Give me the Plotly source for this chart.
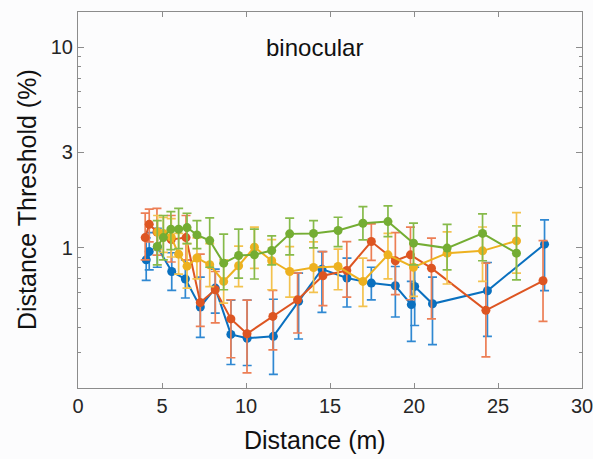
import plotly.graph_objects as go
import math

# ---------------- data ----------------
blue_x = [4.06, 4.24, 4.72, 5.58, 6.39, 7.28, 8.17, 9.10, 10.07, 11.63, 13.13, 14.52, 16.01, 17.46, 18.89, 19.84, 20.04, 21.10, 24.37, 27.77]
blue_y = [0.871, 0.958, 1.01, 0.762, 0.699, 0.507, 0.630, 0.370, 0.354, 0.362, 0.541, 0.783, 0.707, 0.667, 0.647, 0.521, 0.642, 0.526, 0.611, 1.043]
blue_hi = [1.12, 1.19, 1.25, 0.945, 0.871, 0.715, 0.783, 0.548, 0.548, 0.554, 0.748, 0.958, 0.889, 0.80, 0.807, 0.68, 0.80, 0.715, 0.845, 1.378]
blue_lo = [0.688, 0.777, 0.80, 0.613, 0.562, 0.358, 0.473, 0.262, 0.259, 0.234, 0.351, 0.477, 0.507, 0.55, 0.452, 0.342, 0.41, 0.329, 0.362, 0.612]

red_x = [4.00, 4.24, 4.70, 5.55, 6.43, 7.28, 8.17, 9.10, 10.06, 11.60, 13.07, 14.58, 16.00, 17.46, 18.89, 19.79, 21.04, 24.28, 27.68]
red_y = [1.125, 1.31, 1.20, 1.10, 1.125, 0.534, 0.618, 0.442, 0.373, 0.455, 0.551, 0.726, 0.771, 1.075, 0.862, 0.923, 0.792, 0.488, 0.685]
red_hi = [1.49, 1.56, 1.575, 1.45, 1.45, 0.93, 0.762, 0.551, 0.548, 0.613, 0.748, 0.958, 1.075, 1.316, 1.191, 1.268, 1.117, 0.839, 1.087]
red_lo = [0.87, 1.07, 0.92, 0.85, 0.87, 0.406, 0.422, 0.283, 0.238, 0.31, 0.376, 0.515, 0.568, 0.865, 0.584, 0.551, 0.442, 0.286, 0.430]

yellow_x = [4.74, 5.08, 5.55, 5.99, 6.49, 7.08, 7.84, 8.67, 9.56, 10.50, 11.53, 12.60, 14.02, 15.48, 16.96, 18.45, 19.97, 21.97, 24.08, 26.10]
yellow_y = [1.20, 1.18, 1.13, 0.93, 0.81, 0.89, 0.823, 0.68, 0.814, 1.008, 0.862, 0.762, 0.798, 0.807, 0.68, 0.923, 0.80, 0.941, 0.966, 1.083]
yellow_hi = [1.45, 1.42, 1.40, 1.18, 1.05, 1.12, 1.05, 0.87, 1.02, 1.268, 1.10, 1.015, 1.07, 0.985, 0.889, 1.18, 1.05, 1.2, 1.27, 1.499]
yellow_lo = [0.98, 0.95, 0.90, 0.74, 0.63, 0.70, 0.64, 0.53, 0.64, 0.79, 0.618, 0.568, 0.60, 0.618, 0.511, 0.70, 0.573, 0.66, 0.68, 0.748]

green_x = [4.72, 5.08, 5.53, 5.99, 6.49, 7.08, 7.84, 8.67, 9.56, 10.50, 11.53, 12.60, 14.02, 15.48, 16.96, 18.45, 19.97, 21.97, 24.08, 26.10]
green_y = [1.015, 1.125, 1.239, 1.239, 1.262, 1.16, 1.087, 0.839, 0.916, 0.923, 0.97, 1.174, 1.18, 1.22, 1.327, 1.352, 1.055, 0.997, 1.18, 0.941]
green_hi = [1.367, 1.45, 1.516, 1.575, 1.488, 1.367, 1.41, 1.17, 1.239, 1.239, 1.147, 1.405, 1.367, 1.421, 1.605, 1.618, 1.327, 1.31, 1.476, 1.287]
green_lo = [0.823, 0.87, 0.98, 0.99, 1.05, 0.99, 0.80, 0.618, 0.707, 0.699, 0.823, 0.923, 1.0, 1.015, 1.096, 1.138, 0.823, 0.777, 0.862, 0.693]

x_ticks = [0, 5, 10, 15, 20, 25, 30]
y_ticks = [1, 3, 10]
y_ticktext = ["1", "3", "10"]
y_minor = [0.2, 0.3, 0.4, 0.5, 0.6, 0.7, 0.8, 0.9, 2, 4, 5, 6, 7, 8, 9]

series = [
    (blue_x, blue_y, blue_hi, blue_lo, "#0A70BF", "#2F88D2"),
    (red_x, red_y, red_hi, red_lo, "#DD5522", "#EC7E55"),
    (yellow_x, yellow_y, yellow_hi, yellow_lo, "#EDB120", "#F3C24E"),
    (green_x, green_y, green_hi, green_lo, "#74AD33", "#86BA4A"),
]

FONT = "Liberation Sans, Arial, Helvetica, sans-serif"

fig = go.Figure()
for xs, ys, hi, lo, col, ecol in series:
    fig.add_trace(go.Scatter(
        x=xs, y=ys, mode="lines+markers",
        line=dict(color=col, width=2),
        marker=dict(color=col, size=9, symbol="circle"),
        error_y=dict(type="data", symmetric=False,
                     array=[h - v for h, v in zip(hi, ys)],
                     arrayminus=[v - l for v, l in zip(ys, lo)],
                     color=ecol, thickness=1.7, width=4.5),
        showlegend=False,
    ))

fig.update_layout(
    width=593, height=459,
    margin=dict(l=78, r=11, t=12, b=71, autoexpand=False),
    paper_bgcolor="#fcfcfd", plot_bgcolor="#fcfcfd",
    font=dict(family=FONT, size=20, color="#262626"),
    xaxis=dict(range=[0, 30], tickvals=x_ticks, ticks="inside", ticklen=5,
               tickcolor="#8c8c8c", showline=True, linecolor="#8c8c8c", linewidth=1.2,
               mirror="ticks", showgrid=False, zeroline=False, automargin=False,
               ticklabeloverflow="allow",
               tickfont=dict(size=20, color="#262626")),
    yaxis=dict(type="log", range=[math.log10(0.2), math.log10(15)],
               tickvals=y_ticks, ticktext=y_ticktext, ticks="inside", ticklen=6,
               tickcolor="#8c8c8c", showline=True, linecolor="#8c8c8c", linewidth=1.2,
               mirror="ticks", showgrid=False, zeroline=False, automargin=False,
               ticklabeloverflow="allow",
               tickfont=dict(size=20, color="#262626"),
               minor=dict(tickmode="array", tickvals=y_minor, ticks="inside",
                          ticklen=3, tickcolor="#8c8c8c", showgrid=False)),
    annotations=[
        dict(text="binocular", x=14.05, y=1.0, xref="x", yref="y", showarrow=False,
             font=dict(size=24, color="#111111", family=FONT)),
        dict(text="Distance (m)", x=(315 - 78) / 504, y=0, xref="paper", yref="paper",
             yshift=-52, showarrow=False, yanchor="middle",
             font=dict(size=25, color="#111111", family=FONT)),
        dict(text="Distance Threshold (%)", x=0, y=0.5, xref="paper", yref="paper",
             xshift=-51, textangle=-90, showarrow=False, xanchor="center",
             font=dict(size=25, color="#111111", family=FONT)),
    ],
)

# remove the browser's default 8px body margin so the figure fills the window
fig.write_html("out.html",
               config={"displayModeBar": False},
               post_script="document.body.style.margin='0';document.body.style.overflow='hidden';")
